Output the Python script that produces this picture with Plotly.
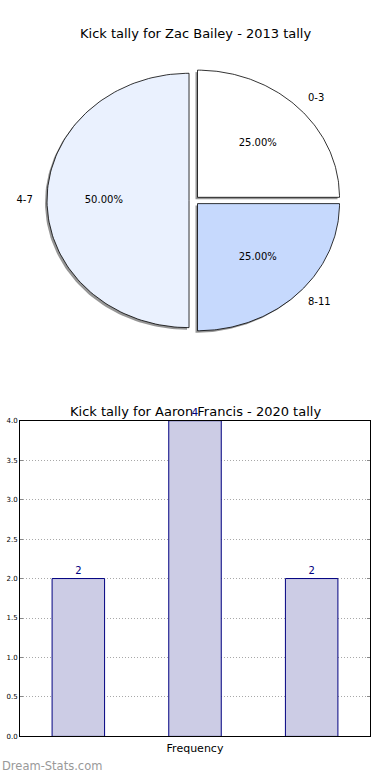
import numpy as np
import plotly.graph_objects as go

# ---- data ----
pie_title = "Kick tally for Zac Bailey - 2013 tally"
pie_labels = ["0-3", "4-7", "8-11"]
pie_values = [1, 2, 1]
pie_colors = ["#ffffff", "#eaf1fe", "#c6d9fd"]

bar_title = "Kick tally for Aaron Francis - 2020 tally"
bar_categories = ["0-3", "4-7", "8-11"]
bar_values = [2, 4, 2]
bar_xlabel = "Frequency"
y_ticks = [0.0, 0.5, 1.0, 1.5, 2.0, 2.5, 3.0, 3.5, 4.0]

W, H = 390, 780
# pie geometry (axis units; radius 1)
explode = 0.035
rx_px, ry_px = 142.0, 128.5
cx_px, cy_px = 194.0, 198.5  # pixels from left / top
pie_dom = [0.5, 1.0]
dom_h = (pie_dom[1] - pie_dom[0]) * H

fig = go.Figure()

total = sum(pie_values)
angles = np.cumsum([0] + [v / total * 360 for v in pie_values])
wedges = []
for i, v in enumerate(pie_values):
    t1, t2 = angles[i], angles[i + 1]
    mid = np.deg2rad((t1 + t2) / 2)
    ox, oy = explode * np.cos(mid), explode * np.sin(mid)
    th = np.deg2rad(np.linspace(t1, t2, 120))
    xs = np.concatenate([[ox], ox + np.cos(th), [ox]])
    ys = np.concatenate([[oy], oy + np.sin(th), [oy]])
    wedges.append((xs, ys, ox, oy, mid))

# shadows
sdx, sdy = -2.0 / rx_px, -2.0 / ry_px
for xs, ys, ox, oy, mid in wedges:
    fig.add_trace(go.Scatter(x=xs + sdx, y=ys + sdy, mode="lines", fill="toself",
                             fillcolor="rgba(80,80,80,0.6)", line=dict(width=0),
                             hoverinfo="skip", showlegend=False, xaxis="x", yaxis="y"))
# wedges
for (xs, ys, ox, oy, mid), c in zip(wedges, pie_colors):
    fig.add_trace(go.Scatter(x=xs, y=ys, mode="lines", fill="toself", fillcolor=c,
                             line=dict(color="black", width=0.8),
                             hoverinfo="skip", showlegend=False, xaxis="x", yaxis="y"))
# labels
for (xs, ys, ox, oy, mid), lab, v in zip(wedges, pie_labels, pie_values):
    lx, ly = ox + 1.1 * np.cos(mid), oy + 1.1 * np.sin(mid)
    pos = "middle right" if np.cos(mid) > 0.01 else ("middle left" if np.cos(mid) < -0.01 else "middle center")
    fig.add_trace(go.Scatter(x=[lx], y=[ly], mode="text", text=[lab], textposition=pos,
                             textfont=dict(size=10, color="black", family="DejaVu Sans"),
                             hoverinfo="skip", showlegend=False, xaxis="x", yaxis="y"))
    px_, py_ = ox + 0.6 * np.cos(mid), oy + 0.6 * np.sin(mid)
    fig.add_trace(go.Scatter(x=[px_], y=[py_], mode="text", text=[f"{v / total * 100:.2f}%"],
                             textposition="middle center",
                             textfont=dict(size=10, color="black", family="DejaVu Sans"),
                             hoverinfo="skip", showlegend=False, xaxis="x", yaxis="y"))

# bars
fig.add_trace(go.Bar(x=bar_categories, y=bar_values, width=0.45,
                     marker=dict(color="#ccccE5", line=dict(color="#000080", width=1)),
                     text=[str(v) for v in bar_values], textposition="outside",
                     textfont=dict(size=10, color="#000080", family="DejaVu Sans"),
                     cliponaxis=False, showlegend=False, xaxis="x2", yaxis="y2"))

xr = [-cx_px / rx_px, (W - cx_px) / rx_px]
cy_dom = dom_h - cy_px
yr = [-cy_dom / ry_px, (dom_h - cy_dom) / ry_px]

fig.update_layout(
    width=W, height=H, margin=dict(l=0, r=0, t=0, b=0),
    paper_bgcolor="white", plot_bgcolor="white",
    font=dict(family="DejaVu Sans", color="black"),
    xaxis=dict(domain=[0, 1], range=xr, visible=False, fixedrange=True),
    yaxis=dict(domain=pie_dom, range=yr, visible=False, fixedrange=True),
    xaxis2=dict(domain=[20 / W, 370 / W], range=[-0.5, 2.5], anchor="y2",
                showticklabels=False, ticks="", showline=True, linecolor="black",
                linewidth=1, mirror=True, showgrid=False, zeroline=False,
                title=dict(text=bar_xlabel, font=dict(size=11), standoff=7)),
    yaxis2=dict(domain=[40 / H, 359 / H], range=[0, 4], anchor="x2",
                tickvals=y_ticks, ticktext=[f"{t:.1f}" for t in y_ticks],
                tickfont=dict(size=7), ticks="inside", ticklen=3, tickcolor="#888",
                showline=True, linecolor="black", linewidth=1, mirror="ticks",
                showgrid=True, gridcolor="#a8a8a8", griddash="1px,2px", gridwidth=1,
                zeroline=False),
    annotations=[
        dict(text=pie_title, x=195 / W, y=1 - 30 / H, xref="paper", yref="paper",
             showarrow=False, font=dict(size=13), xanchor="center", yanchor="middle"),
        dict(text=bar_title, x=195 / W, y=1 - 412 / H, xref="paper", yref="paper",
             showarrow=False, font=dict(size=13), xanchor="center", yanchor="middle"),
        dict(text="Dream-Stats.com", x=0, y=1 - 770 / H, xref="paper", yref="paper",
             showarrow=False, font=dict(size=11.5, color="#999999"), xanchor="left",
             yanchor="middle"),
    ],
)

fig.write_html("out.html", config={"displayModeBar": False},
               post_script="document.body.style.margin='0';")
